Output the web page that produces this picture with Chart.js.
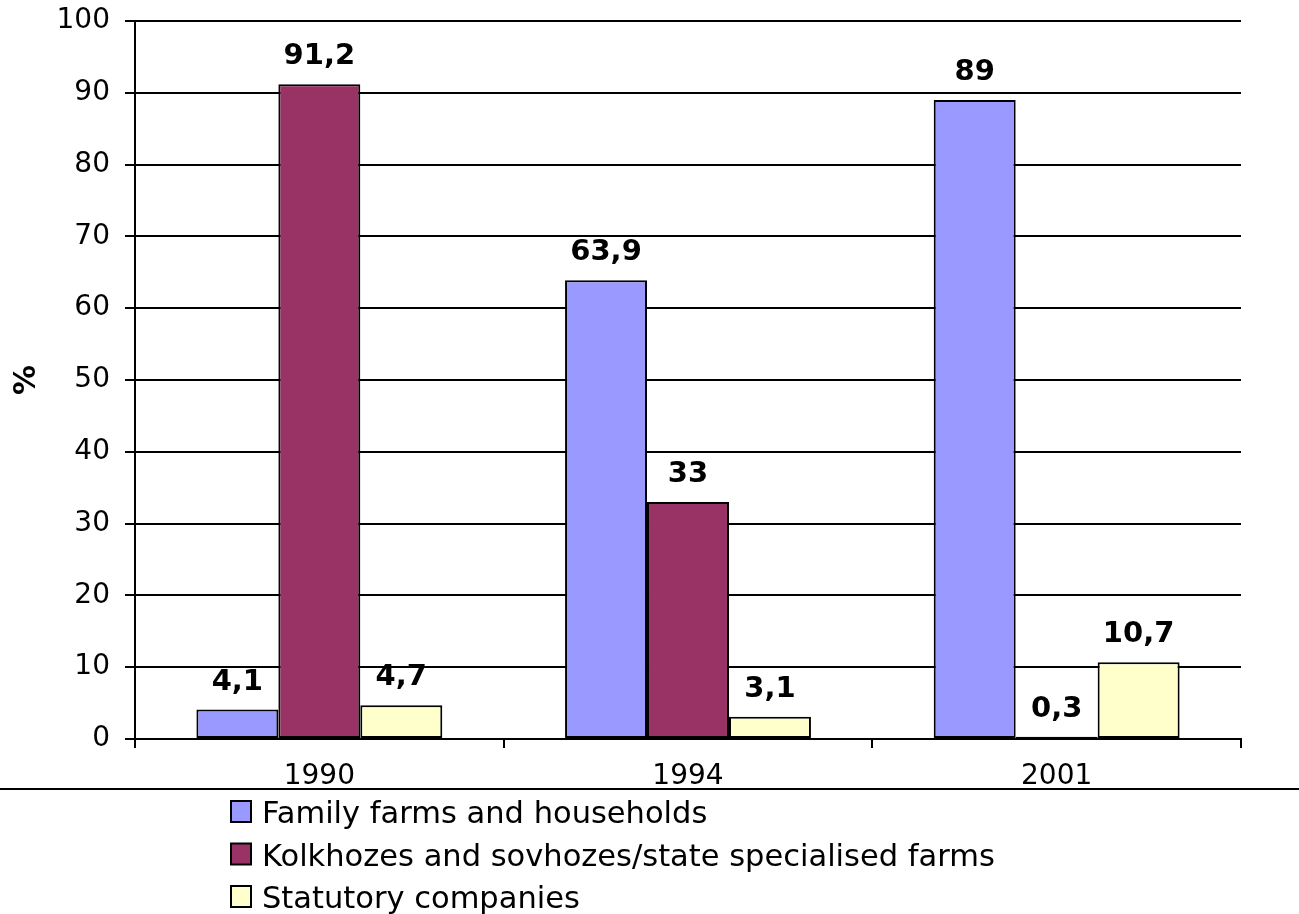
<!DOCTYPE html>
<html>
<head>
<meta charset="utf-8">
<title>Agricultural production by type of producer</title>
<script src="https://cdn.jsdelivr.net/npm/chart.js@4"></script>
<style>
  html, body { margin: 0; padding: 0; background: #ffffff; }
  #wrap { width: 1299px; height: 914px; }
</style>
</head>
<body>
<div id="wrap"><canvas id="chart" width="1299" height="914"></canvas></div>
<script>
// Years on the x axis
const categories = ['1990', '1994', '2001'];

// Share of production by producer type, %
const familyFarms = [4.1, 63.9, 89];
const kolkhozes = [91.2, 33, 0.3];
const statutoryCompanies = [4.7, 3.1, 10.7];

const seriesNames = [
  'Family farms and households',
  'Kolkhozes and sovhozes/state specialised farms',
  'Statutory companies'
];
const seriesColors = ['#9999FF', '#993366', '#FFFFCC'];

// Y axis range and step
const yMin = 0;
const yMax = 100;
const yStep = 10;

const FONT = "'DejaVu Sans', Verdana, sans-serif";

// Draws each bar's value above it, with a decimal comma
const valueLabels = {
  id: 'valueLabels',
  afterDatasetsDraw(chart) {
    const ctx = chart.ctx;
    ctx.save();
    ctx.font = 'bold 29px ' + FONT;
    ctx.fillStyle = '#000000';
    ctx.textAlign = 'center';
    ctx.textBaseline = 'alphabetic';
    chart.data.datasets.forEach((ds, di) => {
      const meta = chart.getDatasetMeta(di);
      meta.data.forEach((bar, i) => {
        const text = String(ds.data[i]).replace('.', ',');
        ctx.fillText(text, bar.x, bar.y - 20);
      });
    });
    ctx.restore();
  }
};

// Legend stacked in one column under the plot, plus the separating rule
const stackedLegend = {
  id: 'stackedLegend',
  afterDraw(chart) {
    const ctx = chart.ctx;
    ctx.save();
    // horizontal rule across the page
    ctx.strokeStyle = '#000000';
    ctx.lineWidth = 2;
    ctx.beginPath();
    ctx.moveTo(0, 789);
    ctx.lineTo(chart.width, 789);
    ctx.stroke();

    ctx.font = '30.5px ' + FONT;
    ctx.textAlign = 'left';
    ctx.textBaseline = 'alphabetic';
    const boxX = 231, textX = 262, firstBaseline = 823, rowGap = 42.5;
    chart.data.datasets.forEach((ds, i) => {
      const base = firstBaseline + i * rowGap;
      ctx.fillStyle = ds.backgroundColor;
      ctx.fillRect(boxX, base - 22, 20, 21);
      ctx.lineWidth = 2;
      ctx.strokeStyle = '#000000';
      ctx.strokeRect(boxX, base - 22, 20, 21);
      ctx.fillStyle = '#000000';
      ctx.fillText(ds.label, textX, base);
    });
    ctx.restore();
  }
};

const datasets = [familyFarms, kolkhozes, statutoryCompanies].map((values, i) => ({
  label: seriesNames[i],
  data: values,
  backgroundColor: seriesColors[i],
  borderColor: '#000000',
  borderWidth: 2,
  borderSkipped: false,
  categoryPercentage: 0.667,
  barPercentage: 1.0
}));

new Chart(document.getElementById('chart'), {
  type: 'bar',
  data: { labels: categories, datasets: datasets },
  options: {
    responsive: false,
    animation: false,
    devicePixelRatio: 1,
    layout: { padding: { top: 21, right: 58, bottom: 0, left: 0 } },
    plugins: {
      legend: { display: false },
      tooltip: { enabled: false },
      title: { display: false }
    },
    scales: {
      x: {
        afterFit(scale) {
          scale.height = 175;
          scale.paddingLeft = 0;
          scale.paddingRight = 0;
        },
        grid: {
          display: true,
          drawOnChartArea: false,
          offset: true,
          color: '#000000',
          lineWidth: 2,
          tickLength: 9
        },
        border: { display: true, color: '#000000', width: 2 },
        ticks: {
          color: '#000000',
          font: { family: FONT, size: 28 },
          padding: 12,
          maxRotation: 0
        }
      },
      y: {
        min: yMin,
        max: yMax,
        afterFit(scale) {
          scale.width = 135;
          scale.paddingTop = 0;
          scale.paddingBottom = 0;
        },
        grid: {
          color: '#000000',
          lineWidth: 2,
          tickLength: 10
        },
        border: { display: true, color: '#000000', width: 2 },
        ticks: {
          stepSize: yStep,
          color: '#000000',
          font: { family: FONT, size: 28 },
          padding: 15
        },
        title: {
          display: true,
          text: '%',
          color: '#000000',
          font: { family: FONT, size: 30, weight: 'bold' },
          padding: { top: 9, bottom: 0 }
        }
      }
    }
  },
  plugins: [valueLabels, stackedLegend]
});
</script>
</body>
</html>
